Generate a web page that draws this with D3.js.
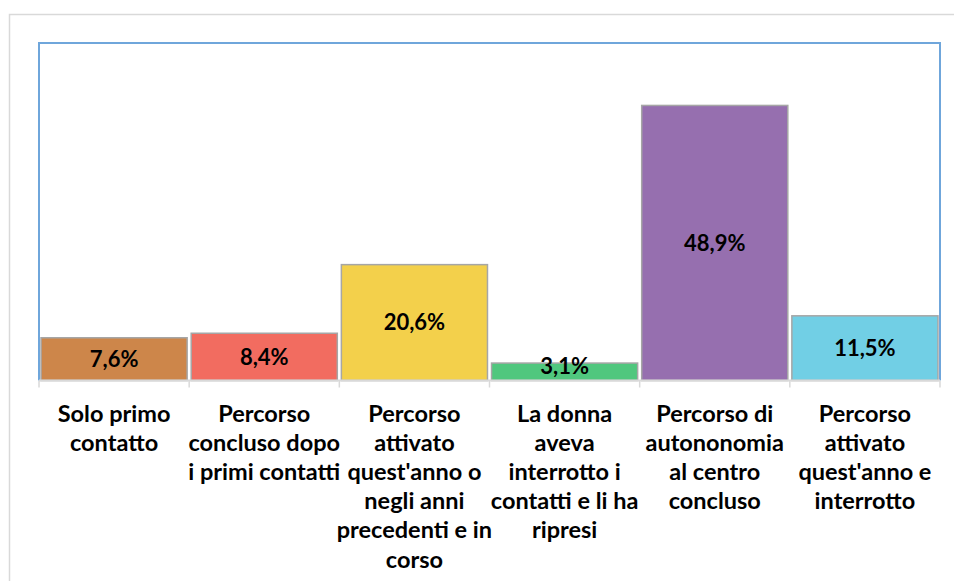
<!DOCTYPE html>
<html>
<head>
<meta charset="utf-8">
<script src="https://cdn.jsdelivr.net/npm/d3@7"></script>
<style>
  body { margin: 0; background: #fff; }
  svg { display: block; font-family: Lato, "Open Sans", sans-serif; }
</style>
</head>
<body>
<div id="chart"></div>
<script>
// data
const categories = [
  "Solo primo contatto",
  "Percorso concluso dopo i primi contatti",
  "Percorso attivato quest'anno o negli anni precedenti e in corso",
  "La donna aveva interrotto i contatti e li ha ripresi",
  "Percorso di autononomia al centro concluso",
  "Percorso attivato quest'anno e interrotto"
];
// wrapped label lines, as in the picture
const labelLines = [
  ["Solo primo", "contatto"],
  ["Percorso", "concluso dopo", "i primi contatti"],
  ["Percorso", "attivato", "quest'anno o", "negli anni", "precedenti e in", "corso"],
  ["La donna", "aveva", "interrotto i", "contatti e li ha", "ripresi"],
  ["Percorso di", "autononomia", "al centro", "concluso"],
  ["Percorso", "attivato", "quest'anno e", "interrotto"]
];
const values = [7.6, 8.4, 20.6, 3.1, 48.9, 11.5];
const colors = ["#cd864a", "#f26c60", "#f3d04b", "#50c77e", "#966faf", "#71cfe5"];

const width = 954, height = 581;
const plot = { left: 39, top: 43, right: 940, bottom: 380.5 };

const svg = d3.select("#chart").append("svg")
  .attr("width", width).attr("height", height);

// outer chart frame
svg.append("rect")
  .attr("x", 9.5).attr("y", 14.5)
  .attr("width", 980).attr("height", 620)
  .attr("fill", "none").attr("stroke", "#d9d9d9").attr("stroke-width", 1.5);

// scales
const x = d3.scaleBand()
  .domain(categories)
  .range([plot.left, plot.right])
  .paddingInner(0.027)
  .paddingOuter(0.0135);

const y = d3.scaleLinear().domain([0, 60]).range([plot.bottom, plot.top]);

// plot area border (blue)
svg.append("path")
  .attr("d", `M${plot.left},${plot.bottom} V${plot.top} H${plot.right} V${plot.bottom}`)
  .attr("fill", "none").attr("stroke", "#6fa6db").attr("stroke-width", 2);

// bars
svg.selectAll("rect.bar")
  .data(values)
  .enter()
  .append("rect")
  .attr("class", "bar")
  .attr("x", (d, i) => x(categories[i]))
  .attr("y", d => y(d))
  .attr("width", x.bandwidth())
  .attr("height", d => y(0) - y(d))
  .attr("fill", (d, i) => colors[i])
  .attr("stroke", "#a6a6a6")
  .attr("stroke-width", 1.5);

// axis line + boundary ticks
const step = x.step();
const boundaries = d3.range(categories.length + 1).map(i => plot.left + i * step);
svg.append("line")
  .attr("x1", plot.left).attr("x2", plot.right)
  .attr("y1", y(0)).attr("y2", y(0))
  .attr("stroke", "#d9d9d9").attr("stroke-width", 2);
svg.selectAll("line.tick")
  .data(boundaries)
  .enter()
  .append("line")
  .attr("class", "tick")
  .attr("x1", d => d).attr("x2", d => d)
  .attr("y1", y(0)).attr("y2", y(0) + 7)
  .attr("stroke", "#d9d9d9").attr("stroke-width", 1.5);

// data labels
svg.selectAll("text.value")
  .data(values)
  .enter()
  .append("text")
  .attr("class", "value")
  .attr("x", (d, i) => x(categories[i]) + x.bandwidth() / 2)
  .attr("y", d => Math.min((y(d) + y(0)) / 2, y(0) - 14))
  .attr("dy", "0.35em")
  .attr("text-anchor", "middle")
  .attr("font-size", 22)
  .attr("font-weight", "bold")
  .attr("fill", "#000")
  .text(d => d.toFixed(1).replace(".", ",") + "%");

// category labels
const lab = svg.selectAll("text.cat")
  .data(labelLines)
  .enter()
  .append("text")
  .attr("class", "cat")
  .attr("text-anchor", "middle")
  .attr("font-size", 23.5)
  .attr("font-weight", "bold")
  .attr("fill", "#000");

lab.selectAll("tspan")
  .data((d, i) => d.map(t => ({ t, i })))
  .enter()
  .append("tspan")
  .attr("x", d => x(categories[d.i]) + x.bandwidth() / 2)
  .attr("y", (d, j) => 421.5 + j * 29.2)
  .text(d => d.t);
</script>
</body>
</html>
